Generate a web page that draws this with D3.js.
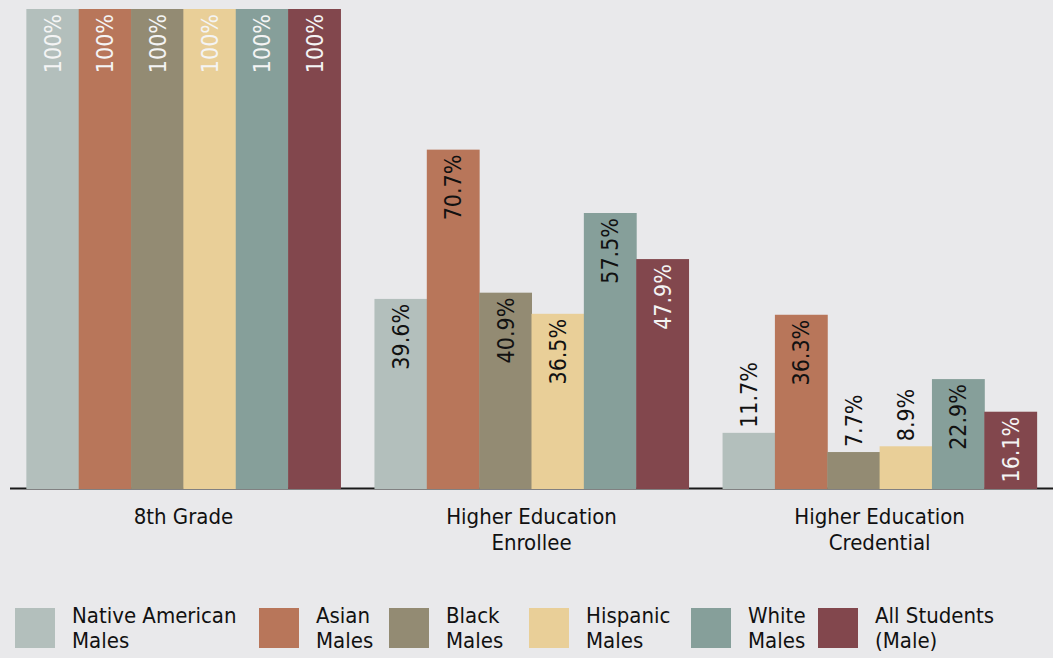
<!DOCTYPE html>
<html><head><meta charset="utf-8">
<script src="https://cdn.jsdelivr.net/npm/d3@7"></script>
<style>
html,body{margin:0;padding:0;background:#e9e9eb;}
svg{display:block;font-family:"DejaVu Sans Condensed","DejaVu Sans",sans-serif;}
</style></head>
<body>
<svg id="chart" width="1053" height="658"></svg>
<script>
const categories = [["8th Grade"], ["Higher Education", "Enrollee"], ["Higher Education", "Credential"]];
const seriesNames = [["Native American", "Males"], ["Asian", "Males"], ["Black", "Males"], ["Hispanic", "Males"], ["White", "Males"], ["All Students", "(Male)"]];
const nativeAmerican = [100, 39.6, 11.7];
const asian = [100, 70.7, 36.3];
const black = [100, 40.9, 7.7];
const hispanic = [100, 36.5, 8.9];
const white = [100, 57.5, 22.9];
const allStudents = [100, 47.9, 16.1];
const valueLabels = [
  ["100%", "100%", "100%", "100%", "100%", "100%"],
  ["39.6%", "70.7%", "40.9%", "36.5%", "57.5%", "47.9%"],
  ["11.7%", "36.3%", "7.7%", "8.9%", "22.9%", "16.1%"]
];
const colors = ["#b3bfbc", "#b8765a", "#938b73", "#e9cf98", "#869f9a", "#82474d"];
const legendX = [15, 259, 389, 529, 691, 818];

const series = [nativeAmerican, asian, black, hispanic, white, allStudents];
const svg = d3.select("#chart");
const baseY = 489;

const x0 = d3.scaleBand().domain(d3.range(categories.length)).range([10, 1053])
  .paddingInner(0.0977).paddingOuter(0.047);
const x1 = d3.scaleBand().domain(d3.range(series.length)).range([0, x0.bandwidth()]);
const y = d3.scaleLinear().domain([0, 100]).range([baseY, 9]);

svg.append("line").attr("x1", 10).attr("x2", 1053).attr("y1", baseY - 0.5).attr("y2", baseY - 0.5)
  .attr("stroke", "#1a1a1a").attr("stroke-width", 2);

const data = [];
categories.forEach((c, gi) => series.forEach((s, si) => data.push({gi, si, v: s[gi], label: valueLabels[gi][si]})));

svg.selectAll("rect.bar").data(data).join("rect").attr("class", "bar")
  .attr("x", d => x0(d.gi) + x1(d.si))
  .attr("width", x1.bandwidth() + 0.5)
  .attr("y", d => y(d.v))
  .attr("height", d => y(0) - y(d.v))
  .attr("fill", d => colors[d.si]);

svg.selectAll("text.val").data(data).join("text").attr("class", "val")
  .each(function(d) {
    const cx = x0(d.gi) + x1(d.si) + x1.bandwidth() / 2;
    const top = y(d.v);
    const inside = (y(0) - top) > 75;
    const t = d3.select(this)
      .attr("transform", `translate(${cx},${inside ? top + 5 : top - 5}) rotate(-90)`)
      .attr("dy", "0.36em")
      .attr("font-size", 23)
      .attr("text-anchor", inside ? "end" : "start")
      .text(d.label);
    const whiteText = inside && (d.gi === 0 || d.si === series.length - 1);
    t.attr("fill", whiteText ? "#f4f4f4" : "#111111");
  });

const catG = svg.append("g");
categories.forEach((lines, gi) => {
  const t = catG.append("text").attr("x", x0(gi) + x0.bandwidth() / 2).attr("y", 524)
    .attr("text-anchor", "middle").attr("font-size", 22).attr("fill", "#111");
  lines.forEach((l, i) => t.append("tspan").attr("x", x0(gi) + x0.bandwidth() / 2).attr("dy", i === 0 ? 0 : 26).text(l));
});

const leg = svg.append("g");
seriesNames.forEach((lines, i) => {
  leg.append("rect").attr("x", legendX[i]).attr("y", 608).attr("width", 40).attr("height", 40).attr("fill", colors[i]);
  const t = leg.append("text").attr("x", legendX[i] + 57).attr("y", 623).attr("font-size", 22).attr("fill", "#111");
  lines.forEach((l, j) => t.append("tspan").attr("x", legendX[i] + 57).attr("dy", j === 0 ? 0 : 25).text(l));
});
</script>
</body></html>
